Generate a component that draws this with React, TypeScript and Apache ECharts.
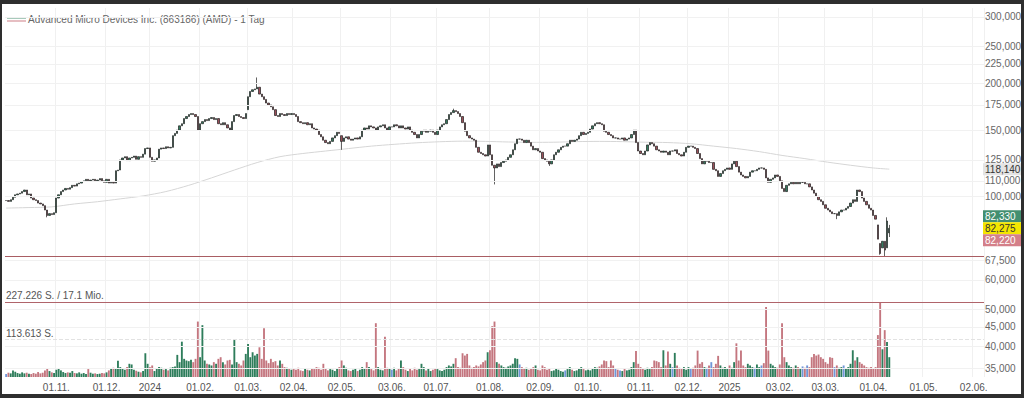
import { useEffect, useRef } from "react";
import * as echarts from "echarts";

const FONT = 'Arial, "Liberation Sans", Helvetica, sans-serif';
const title = "Advanced Micro Devices Inc. (863186) (AMD) - 1 Tag";

// trading calendar (weekdays), historic exchange holidays removed
const firstDay = "2023-10-02";
const lastAxisDay = "2025-06-06";
const closedDays = [
  "2023-12-25", "2023-12-26", "2024-01-01", "2024-03-29", "2024-04-01", "2024-05-01",
  "2024-12-24", "2024-12-25", "2024-12-26", "2024-12-31", "2025-01-01",
];

// daily closes (EUR), month by month
const closeOct23 = [97.5, 97, 98, 99.5, 101, 101.5, 102, 103, 104, 101, 101.5, 99, 98, 97.5, 96, 95.5, 94.5, 92, 89, 90, 89.5, 90.5];
const closeNov23 = [99, 101, 103, 104, 105, 104.5, 105.5, 107, 106.5, 108, 108.5, 109.5, 110, 111, 110, 110.5, 111, 110, 110.5, 111.5, 110, 109];
const closeDec23 = [111, 108.5, 109, 108.5, 117, 117.5, 125, 126.5, 127.5, 124.5, 126.5, 127, 128, 125.5, 127.5, 127, 129.5, 134, 134.5];
const closeJan24 = [127, 124, 125, 126.5, 133.5, 134.5, 134, 135.5, 134.5, 135, 145, 147, 150, 154, 156, 161, 163, 165, 166, 165, 163, 150];
const closeFeb24 = [156, 158, 160, 159, 161, 162, 160, 161, 156, 155, 157, 155, 152, 150, 158, 164, 165, 163, 162, 161, 166];
const closeMar24 = [184, 190, 192, 193, 195, 187, 184, 181, 177, 175, 173, 170, 164, 163, 166, 165, 164, 166, 165, 166];
const closeApr24 = [165, 163, 158, 157, 156, 157, 155, 156, 152, 151, 150, 146, 144, 141, 139, 138, 140, 143, 145, 148, 147];
const closeMay24 = [140, 143, 144, 142, 141, 142, 143, 142, 144, 150, 152, 151, 154, 153, 152, 150, 153, 154, 155, 152, 150, 153];
const closeJun24 = [153, 155, 154, 152, 154, 152, 151, 153, 150, 148, 146, 143, 146, 149, 150, 148, 149, 150, 148, 146];
const closeJul24 = [150, 153, 155, 156, 160, 165, 167, 169, 168, 166, 163, 157, 149, 145, 143, 142, 141, 135, 131, 130, 129, 128, 137];
const closeAug24 = [129, 121, 119, 122, 120, 123, 124, 125, 127, 129, 133, 138, 142, 142, 141, 139, 141, 139, 136, 133, 134, 132];
const closeSep24 = [131, 126, 125, 124, 122, 125, 129, 131, 133, 135, 136, 136, 138, 141, 140, 141, 142, 145, 148, 146, 147];
const closeOct24 = [148, 151, 154, 156, 157, 156, 155, 149, 148, 146, 145, 143, 143, 142, 142, 143, 141, 142, 143, 146, 150, 139, 132];
const closeNov24 = [130, 129, 132, 137, 139, 138, 136, 133, 132, 131, 132, 131, 129, 132, 132, 133, 130, 129, 128, 131, 135];
const closeDec24 = [136, 136, 135, 134, 130, 126, 122, 124, 124, 123, 123, 118, 117, 113, 115, 117, 118, 119];
const closeJan25 = [118, 122, 124, 120, 116, 114, 113, 112, 113, 116, 117, 117, 118, 119, 119, 118, 112, 109, 111, 112, 114, 113];
const closeFeb25 = [110, 105, 103, 107, 108, 109, 108, 109, 108, 109, 109, 108, 108, 106, 104, 102, 100, 98, 97, 95];
const closeMar25 = [93, 92, 91, 90, 90, 89, 91, 92, 92, 93, 94, 96, 98, 97, 104, 103, 99, 97, 95, 93, 92];
const closeApr25 = [89, 87, 77, 70.5, 76, 72, 86, 82.275];

// opening gaps and visible wick extremes (EUR)
const gapOpens: [string, number][] = [
  ["2024-03-01", 170], ["2024-05-02", 145], ["2025-04-03", 84], ["2025-04-04", 75],
  ["2025-04-07", 73], ["2025-04-09", 73], ["2025-04-10", 80],
];
const wickLows: [string, number][] = [
  ["2023-10-26", 88], ["2024-05-02", 133], ["2024-08-05", 107.6], ["2024-09-06", 120.5],
  ["2025-03-10", 87], ["2025-04-04", 70], ["2025-04-08", 69.3], ["2025-04-10", 78],
];
const wickHighs: [string, number][] = [
  ["2024-03-07", 207], ["2024-07-10", 171], ["2025-04-09", 88], ["2025-04-10", 84],
];

// daily volume, thousand shares
const volOct23 = [9, 13, 11, 20, 16, 12, 10, 14, 11, 13, 10, 9, 12, 10, 15, 11, 13, 20, 25, 18, 14, 12];
const volNov23 = [22, 26, 20, 15, 12, 14, 13, 18, 12, 11, 14, 10, 12, 9, 24, 13, 10, 11, 9, 10, 12, 11];
const volDec23 = [14, 20, 27, 28, 25, 49, 30, 26, 22, 30, 40, 38, 22, 19, 16, 14, 18, 72, 40];
const volJan24 = [30, 35, 18, 25, 30, 28, 22, 24, 20, 28, 30, 32, 67, 45, 107, 55, 50, 48, 52, 45, 55, 168];
const volFeb24 = [60, 157, 50, 40, 38, 35, 45, 40, 55, 60, 45, 38, 50, 52, 38, 112, 45, 40, 35, 50, 70];
const volMar24 = [100, 60, 75, 65, 70, 90, 55, 148, 50, 42, 55, 45, 48, 35, 50, 40, 30, 28, 25, 22];
const volApr24 = [24, 22, 28, 20, 18, 25, 22, 20, 26, 24, 30, 28, 22, 40, 25, 20, 24, 22, 18, 25, 30];
const volMay24 = [50, 35, 28, 20, 18, 22, 25, 18, 22, 30, 26, 45, 30, 24, 20, 163, 30, 22, 20, 122, 28, 25];
const volJun24 = [22, 28, 20, 25, 50, 30, 22, 18, 25, 20, 28, 22, 24, 40, 30, 20, 25, 18, 22, 26];
const volJul24 = [24, 20, 18, 22, 30, 35, 32, 40, 57, 30, 28, 72, 65, 70, 35, 28, 30, 35, 32, 38, 45, 50, 75];
const volAug24 = [81, 154, 168, 45, 40, 35, 30, 28, 32, 35, 40, 57, 55, 38, 30, 26, 28, 22, 25, 30, 35, 22];
const volSep24 = [20, 35, 30, 22, 25, 18, 20, 26, 22, 18, 16, 20, 24, 30, 22, 18, 20, 26, 30, 24, 20];
const volOct24 = [22, 20, 25, 30, 28, 32, 38, 50, 48, 30, 50, 35, 25, 22, 20, 18, 24, 20, 22, 30, 45, 79, 40];
const volNov24 = [30, 25, 22, 28, 24, 30, 50, 48, 45, 30, 81, 35, 77, 40, 30, 73, 35, 28, 25, 30, 22];
const volDec24 = [30, 25, 28, 35, 80, 40, 45, 30, 28, 35, 45, 30, 40, 64, 35, 28, 30, 25];
const volJan25 = [35, 28, 45, 102, 50, 80, 35, 30, 40, 35, 30, 28, 38, 30, 35, 42, 212, 80, 40, 35, 30, 28];
const volFeb25 = [38, 163, 60, 45, 35, 30, 28, 35, 30, 25, 32, 28, 35, 30, 60, 70, 65, 68, 60, 55];
const volMar25 = [45, 40, 60, 58, 30, 35, 28, 30, 35, 25, 30, 40, 81, 50, 60, 45, 40, 35, 30, 28, 30];
const volApr25 = [25, 30, 127, 227.226, 84, 142, 106, 60];

// 200-day average, read every 10 sessions, plus the last value
const maEvery10 = [93.1, 93.4, 93.8, 95.5, 96.8, 98.5, 100.3, 103, 107, 112, 117.5, 123, 127.5, 130, 132, 134, 136, 137.5, 138.8, 139.7, 140.2, 140, 139.5, 139.2, 139.3, 139.8, 140, 139.8, 139.3, 139, 138, 136, 134, 131.5, 128.5, 126, 123.3, 121, 119];
const maLast = 118.14;

// price scale labels, quote tags, reference lines
const priceTicks = [300, 250, 225, 200, 175, 150, 125, 110, 100, 67.5, 60, 50, 45, 40, 35];
const periodLow = 69.3;
const bidPrice = 82.33;
const lastPrice = 82.275;
const askPrice = 82.22;
const volMax = 227.226;
const volMaxLabel = "227.226 S. / 17.1 Mio.";
const volMid = 113.613;
const volMidLabel = "113.613 S.";

const closes = [
  ...closeOct23, ...closeNov23, ...closeDec23, ...closeJan24, ...closeFeb24, ...closeMar24,
  ...closeApr24, ...closeMay24, ...closeJun24, ...closeJul24, ...closeAug24, ...closeSep24,
  ...closeOct24, ...closeNov24, ...closeDec24, ...closeJan25, ...closeFeb25, ...closeMar25, ...closeApr25,
];
const volumes = [
  ...volOct23, ...volNov23, ...volDec23, ...volJan24, ...volFeb24, ...volMar24,
  ...volApr24, ...volMay24, ...volJun24, ...volJul24, ...volAug24, ...volSep24,
  ...volOct24, ...volNov24, ...volDec24, ...volJan25, ...volFeb25, ...volMar25, ...volApr25,
];

function buildDays(): string[] {
  const out: string[] = [];
  const [y0, m0, d0] = firstDay.split("-").map(Number);
  const [y1, m1, d1] = lastAxisDay.split("-").map(Number);
  const d = new Date(Date.UTC(y0, m0 - 1, d0));
  const end = Date.UTC(y1, m1 - 1, d1);
  while (d.getTime() <= end) {
    const wd = d.getUTCDay();
    const iso = d.toISOString().slice(0, 10);
    if (wd !== 0 && wd !== 6 && !closedDays.includes(iso)) out.push(iso);
    d.setUTCDate(d.getUTCDate() + 1);
  }
  return out;
}

const fmtPrice = (v: number) => v.toFixed(3).replace(".", ",");

// layout
const GRID_LEFT = 5;
const GRID_RIGHT = 40;
const PRICE_TOP = 8;
const BOTTOM = 21;
const VOL_TOP = 300;
const VOL_HEADROOM = 77 / 75; // volume pane is a bit taller than the max bar

function buildOption() {
  const days = buildDays();
  const monthStart = new Set<number>();
  for (let i = 1; i < days.length; i++) {
    if (days[i].slice(0, 7) !== days[i - 1].slice(0, 7)) monthStart.add(i);
  }
  const openMap = new Map(gapOpens);
  const lowMap = new Map(wickLows);
  const highMap = new Map(wickHighs);

  const candles = closes.map((c, i) => {
    const day = days[i];
    const o = openMap.get(day) ?? (i > 0 ? closes[i - 1] : c);
    const lo = lowMap.get(day) ?? Math.min(o, c);
    const hi = highMap.get(day) ?? Math.max(o, c);
    return [o, c, lo, hi];
  });

  const volData = volumes.map((v, i) => {
    const [o, c] = candles[i];
    const col = c > o ? "#2e7d5b" : c < o ? "#c4767f" : "#7096d8";
    return { value: v, itemStyle: { color: col } };
  });

  const maData: (number | null)[] = closes.map(() => null);
  maEvery10.forEach((v, k) => { maData[k * 10] = v; });
  maData[closes.length - 1] = maLast;

  const labelStyle = { color: "#666", fontSize: 10, fontFamily: FONT };

  return {
    animation: false,
    backgroundColor: "#ffffff",
    grid: [
      { left: GRID_LEFT, right: GRID_RIGHT, top: PRICE_TOP, bottom: BOTTOM },
      { left: GRID_LEFT, right: GRID_RIGHT, top: VOL_TOP, bottom: BOTTOM },
    ],
    xAxis: [
      {
        type: "category", gridIndex: 0, data: days, boundaryGap: true,
        axisLine: { show: false }, axisTick: { show: false },
        axisLabel: {
          interval: (i: number) => monthStart.has(i),
          formatter: (v: string) => {
            const [y, m, d] = v.split("-");
            return m === "01" ? y : `${d}.${m}.`;
          },
          color: "#555", fontSize: 10, fontFamily: FONT, margin: 5,
        },
        splitLine: { show: true, interval: (i: number) => monthStart.has(i), lineStyle: { color: "#f0f0f0", width: 1 } },
      },
      { type: "category", gridIndex: 1, data: days, show: false, boundaryGap: true },
    ],
    yAxis: [
      { type: "log", gridIndex: 0, min: 33.13, max: 316.6, show: false },
      { type: "value", gridIndex: 1, min: 0, max: volMax * VOL_HEADROOM, show: false },
    ],
    series: [
      {
        name: "MA", type: "line", xAxisIndex: 0, yAxisIndex: 0, data: maData, connectNulls: true,
        symbol: "none", smooth: 0.3, z: 1,
        lineStyle: { color: "#d6d6d6", width: 1 },
        markLine: {
          silent: true, symbol: ["none", "none"],
          lineStyle: { color: "#f1f1f1", type: "solid", width: 1 },
          label: { show: true, position: "end", distance: 1, ...labelStyle },
          data: priceTicks.map((v) => ({ yAxis: v, label: { formatter: fmtPrice(v) } })),
        },
      },
      {
        name: "AMD", type: "candlestick", xAxisIndex: 0, yAxisIndex: 0, data: candles, z: 3,
        barWidth: 1.8,
        itemStyle: {
          color: "#347a5e", color0: "#9a4f59",
          borderColor: "#202020", borderColor0: "#202020", borderWidth: 0.7,
        },
        markLine: {
          silent: true, symbol: ["none", "none"],
          lineStyle: { color: "#a95d63", type: "solid", width: 1 },
          label: { show: false },
          data: [{ yAxis: periodLow }],
        },
      },
      {
        name: "Volumen", type: "bar", xAxisIndex: 1, yAxisIndex: 1, data: volData, z: 2,
        barWidth: "82%",
        markLine: {
          silent: true, symbol: ["none", "none"],
          data: [
            {
              yAxis: volMax,
              lineStyle: { color: "#b0646a", type: "solid", width: 1 },
              label: { show: true, position: "insideStartTop", distance: 1, formatter: volMaxLabel, color: "#555", fontSize: 10, fontFamily: FONT },
            },
            {
              yAxis: volMid,
              lineStyle: { color: "#e2e2e2", type: "dashed", width: 1 },
              label: { show: true, position: "insideStartTop", distance: 1, formatter: volMidLabel, color: "#555", fontSize: 10, fontFamily: FONT },
            },
          ],
        },
      },
    ],
  };
}

export default function App() {
  const ref = useRef<HTMLDivElement>(null);
  useEffect(() => {
    if (!ref.current) return;
    const chart = echarts.init(ref.current, undefined, { renderer: "svg" });
    chart.setOption(buildOption() as any);

    const py = (v: number) => chart.convertToPixel({ yAxisIndex: 0 } as any, v) as number;
    const yLast = py(lastPrice);
    const yMa = py(maLast);
    const tag = (y: number, text: string, bg: string, fg: string) => [
      { type: "rect", z: 50, shape: { x: 983, y: y - 6, width: 41, height: 12 }, style: { fill: bg } },
      { type: "text", z: 51, x: 985, y: y, style: { text, fill: fg, font: `10px ${FONT}`, verticalAlign: "middle", align: "left" } },
    ];
    chart.setOption({
      graphic: [
        { type: "line", shape: { x1: 7, y1: 18, x2: 26, y2: 18 }, style: { stroke: "#6ea78e", lineWidth: 1.2 } },
        { type: "line", shape: { x1: 7, y1: 21, x2: 26, y2: 21 }, style: { stroke: "#d6939a", lineWidth: 1.2 } },
        { type: "text", x: 28, y: 19.5, style: { text: title, fill: "#666", font: `10px ${FONT}`, verticalAlign: "middle" } },
        ...tag(yMa, fmtPrice(maLast), "#e4e4e4", "#333"),
        ...tag(yLast - 12, fmtPrice(bidPrice), "#438f70", "#ffffff"),
        ...tag(yLast, fmtPrice(lastPrice), "#f3e600", "#333"),
        ...tag(yLast + 12, fmtPrice(askPrice), "#d47f89", "#ffffff"),
      ],
    } as any);
    return () => chart.dispose();
  }, []);
  return (
    <div style={{ position: "fixed", left: 0, top: 0, width: 1024, height: 398, background: "#fff", overflow: "hidden" }}>
      <div ref={ref} style={{ position: "absolute", left: 0, top: 0, width: 1024, height: 398 }} />
      <div
        style={{
          position: "absolute", left: 0, top: 0, width: 1024, height: 398, boxSizing: "border-box",
          borderTop: "4px solid #2e2e2e", borderLeft: "2px solid #2e2e2e",
          borderRight: "3px solid #2e2e2e", borderBottom: "4px solid #2e2e2e", pointerEvents: "none",
        }}
      />
    </div>
  );
}
